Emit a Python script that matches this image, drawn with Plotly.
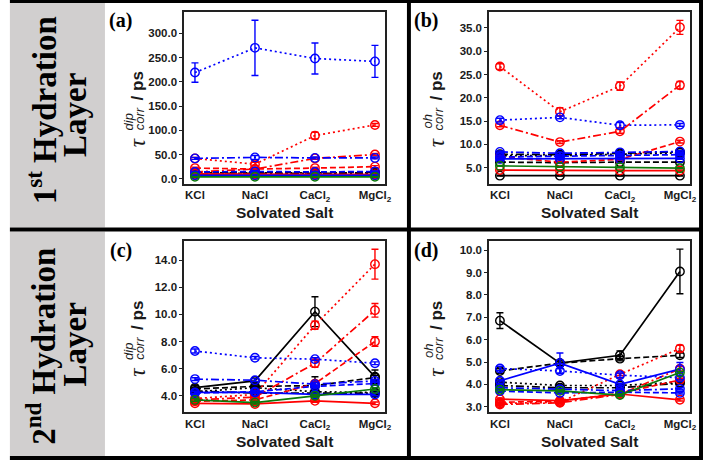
import plotly.graph_objects as go

# ---------------- data ----------------
salts = ["KCl", "NaCl", "CaCl2", "MgCl2"]
salt_labels = ["KCl", "NaCl", "CaCl<sub>2</sub>", "MgCl<sub>2</sub>"]

series = ["black solid", "black dash", "black dot", "black dashdot",
          "red solid", "red dash", "red dot", "red dashdot",
          "blue solid", "blue dash", "blue dot", "blue dashdot",
          "green solid"]

# (a) tau_dip, 1st hydration layer
tau_dip_1st = [
    [8, 8, 8, 8], [14, 13, 13, 13], [12, 12, 12, 12], [11, 11, 11, 11],
    [10, 9, 9, 9], [22, 20, 22, 25], [42, 30, 89, 111], [14, 20, 42, 50],
    [7, 7, 7, 7], [14, 15, 14, 15], [219, 270, 248, 242], [42, 44, 43, 43],
    [4, 4, 4, 4]]
err_dip_1st = [
    [1, 1, 1, 1], [1, 1, 1, 1], [1, 1, 1, 1], [1, 1, 1, 1],
    [1, 1, 1, 1], [2, 2, 2, 2], [2, 4, 7, 3], [1, 2, 2, 2],
    [1, 1, 1, 1], [1, 2, 1, 1], [20, 57, 32, 33], [2, 4, 2, 2],
    [1, 1, 1, 1]]

# (b) tau_oh, 1st hydration layer
tau_oh_1st = [
    [3.3, 3.3, 3.3, 3.3], [6.2, 6.1, 6.2, 6.2], [7.6, 7.6, 7.9, 8.2], [7.9, 7.8, 8.1, 8.4],
    [4.5, 4.4, 4.4, 4.4], [7.4, 6.2, 6.8, 10.6], [26.7, 17.0, 22.5, 35.1], [14.1, 10.5, 12.8, 22.7],
    [6.9, 6.9, 6.9, 7.0], [7.3, 7.5, 7.6, 7.8], [15.2, 15.8, 14.1, 14.2], [8.4, 8.1, 8.3, 8.5],
    [5.4, 5.2, 5.1, 4.9]]
err_oh_1st = [
    [0.1, 0.1, 0.1, 0.1], [0.1, 0.1, 0.1, 0.1], [0.2, 0.2, 0.2, 0.2], [0.2, 0.2, 0.2, 0.2],
    [0.1, 0.1, 0.1, 0.1], [0.2, 0.2, 0.2, 0.3], [0.6, 0.9, 0.9, 1.5], [0.3, 0.3, 0.4, 0.8],
    [0.2, 0.2, 0.2, 0.2], [0.2, 0.2, 0.2, 0.2], [0.4, 0.3, 0.6, 0.3], [0.2, 0.2, 0.2, 0.2],
    [0.1, 0.1, 0.1, 0.1]]

# (c) tau_dip, 2nd hydration layer
tau_dip_2nd = [
    [4.6, 5.1, 10.2, 5.4], [4.5, 4.7, 4.75, 5.35], [4.3, 4.6, 4.3, 4.25], [4.35, 4.2, 4.2, 4.2],
    [3.45, 3.4, 3.63, 3.45], [3.6, 3.7, 4.9, 8.0], [3.8, 4.1, 9.2, 13.7], [3.7, 3.9, 6.4, 10.3],
    [4.25, 4.25, 4.1, 4.1], [4.2, 4.3, 4.7, 4.9], [7.3, 6.8, 6.7, 6.4], [5.23, 5.15, 4.86, 5.1],
    [3.7, 3.5, 4.0, 4.5]]
err_dip_2nd = [
    [0.15, 0.2, 1.1, 0.5], [0.1, 0.1, 0.65, 0.15], [0.1, 0.1, 0.1, 0.1], [0.1, 0.1, 0.1, 0.1],
    [0.1, 0.1, 0.1, 0.1], [0.1, 0.1, 0.15, 0.35], [0.1, 0.1, 0.3, 1.1], [0.1, 0.1, 0.3, 0.5],
    [0.1, 0.1, 0.1, 0.1], [0.1, 0.1, 0.1, 0.1], [0.15, 0.1, 0.1, 0.1], [0.1, 0.1, 0.1, 0.1],
    [0.1, 0.1, 0.1, 0.1]]

# (d) tau_oh, 2nd hydration layer
tau_oh_2nd = [
    [6.85, 4.95, 5.3, 9.05], [4.6, 4.95, 5.15, 5.3], [4.1, 3.95, 3.95, 4.1], [3.95, 3.85, 3.85, 4.05],
    [3.34, 3.27, 3.57, 3.31], [3.2, 3.25, 3.6, 4.2], [3.15, 3.2, 4.45, 5.6], [3.1, 3.18, 3.55, 4.7],
    [4.16, 4.95, 4.0, 4.68], [3.7, 3.62, 3.65, 3.62], [4.71, 4.6, 4.41, 4.3], [3.85, 3.78, 3.72, 3.8],
    [3.76, 3.71, 3.52, 4.53]]
err_oh_2nd = [
    [0.35, 0.1, 0.2, 1.0], [0.1, 0.1, 0.1, 0.1], [0.05, 0.05, 0.05, 0.05], [0.05, 0.05, 0.05, 0.05],
    [0.05, 0.05, 0.05, 0.05], [0.05, 0.05, 0.05, 0.05], [0.05, 0.05, 0.05, 0.15], [0.05, 0.05, 0.05, 0.1],
    [0.05, 0.45, 0.05, 0.3], [0.05, 0.05, 0.05, 0.05], [0.1, 0.1, 0.1, 0.1], [0.05, 0.05, 0.05, 0.05],
    [0.05, 0.05, 0.05, 0.05]]

# ---------------- styles ----------------
COL = {"black": "#000000", "red": "#ff0000", "blue": "#0000ff", "green": "#0a7a0a"}
DASH = {"solid": "solid", "dash": "6px,3px", "dot": "2px,3px", "dashdot": "8px,3px,2px,3px"}

W, H = 710, 463
def fx(x):
    return x / W
def fy(y):
    return 1 - y / H

panels = [
    dict(label="(a)", n="", box=(186, 389, 12, 184), yr=[-10, 344], dt=50,
         vals=tau_dip_1st, errs=err_dip_1st, sup="dip", dx=-47),
    dict(label="(b)", n="2", box=(494, 697, 12, 184), yr=[1.6, 38.4], dt=5,
         vals=tau_oh_1st, errs=err_oh_1st, sup="oh", dx=-53),
    dict(label="(c)", n="3", box=(186, 389, 242, 413), yr=[2.8, 15.37], dt=2,
         vals=tau_dip_2nd, errs=err_dip_2nd, sup="dip", dx=-47),
    dict(label="(d)", n="4", box=(494, 697, 242, 413), yr=[2.76, 10.39], dt=1,
         vals=tau_oh_2nd, errs=err_oh_2nd, sup="oh", dx=-53),
]

fig = go.Figure()
layout = dict(width=W, height=H, margin=dict(l=0, r=0, t=0, b=0),
              paper_bgcolor="white", plot_bgcolor="white", showlegend=False)
annotations = []
shapes = []

tickfont = dict(family="Liberation Sans", size=11.5, color="#1a1a1a", weight="bold")
ink = "#1a1a1a"

for p in panels:
    L, R, T, B = p["box"]
    n = p["n"]
    xa, ya = "xaxis" + n, "yaxis" + n
    layout[xa] = dict(domain=[fx(L), fx(R)], anchor="y" + n, type="category",
                      range=[-0.18, 3.17], tickmode="array", tickvals=salts, ticktext=salt_labels,
                      showline=True, mirror=True, linecolor="#222", linewidth=1.6,
                      ticks="", showgrid=False, zeroline=False, tickfont=tickfont)
    layout[ya] = dict(domain=[fy(B), fy(T)], anchor="x" + n, range=p["yr"],
                      tick0=0, dtick=p["dt"], tickformat=".1f",
                      showline=True, mirror=True, linecolor="#222", linewidth=1.6,
                      ticks="outside", ticklen=3, tickcolor="#222", showgrid=False,
                      zeroline=False, tickfont=tickfont)
    for i, name in enumerate(series):
        cname, dname = name.split()
        c = COL[cname]
        fig.add_trace(go.Scatter(
            x=salts, y=p["vals"][i], name=name, mode="lines+markers",
            xaxis="x" + n, yaxis="y" + n,
            line=dict(color=c, width=1.7, dash=DASH[dname]),
            marker=dict(symbol="circle-open", size=8.5, color=c, line=dict(width=1.4, color=c)),
            error_y=dict(type="data", array=p["errs"][i], color=c, thickness=1.4, width=3.5),
        ))
    # panel label
    annotations.append(dict(text=p["label"], x=fx(L - 64), y=fy(T + 9), xref="paper", yref="paper",
                            showarrow=False, xanchor="center", yanchor="middle",
                            font=dict(family="Liberation Serif", size=20, color="black", weight="bold")))
    # x title
    annotations.append(dict(text="Solvated Salt", x=fx((L + R) / 2), y=fy(B + 29), xref="paper", yref="paper",
                            showarrow=False, xanchor="center", yanchor="middle",
                            font=dict(family="Liberation Sans", size=15.5, color=ink, weight="bold")))
    # y title pieces (tau with stacked super/subscript)
    cx = L + p["dx"]
    annotations.append(dict(text="τ", x=fx(cx), y=fy(T + 131), xref="paper", yref="paper",
                            showarrow=False, textangle=-90, xanchor="center", yanchor="middle",
                            font=dict(family="Liberation Serif", size=23, color=ink, style="italic")))
    annotations.append(dict(text=p["sup"], x=fx(cx - 9), y=fy(T + 110), xref="paper", yref="paper",
                            showarrow=False, textangle=-90, xanchor="center", yanchor="middle",
                            font=dict(family="Liberation Sans", size=13, color=ink, style="italic")))
    annotations.append(dict(text="corr", x=fx(cx + 2), y=fy(T + 107), xref="paper", yref="paper",
                            showarrow=False, textangle=-90, xanchor="center", yanchor="middle",
                            font=dict(family="Liberation Sans", size=13, color=ink, style="italic")))
    annotations.append(dict(text="/ ps", x=fx(cx), y=fy(T + 74), xref="paper", yref="paper",
                            showarrow=False, textangle=-90, xanchor="center", yanchor="middle",
                            font=dict(family="Liberation Sans", size=17, color=ink, weight="bold")))

# gray side column
gray = "#d1cfcf"
shapes.append(dict(type="rect", xref="paper", yref="paper", x0=fx(10), x1=fx(106), y0=fy(228), y1=fy(3),
                   fillcolor=gray, line=dict(width=0), layer="below"))
shapes.append(dict(type="rect", xref="paper", yref="paper", x0=fx(10), x1=fx(106), y0=fy(457), y1=fy(232),
                   fillcolor=gray, line=dict(width=0), layer="below"))
# black frame lines
for (x0, x1, y0, y1) in [(10, 710, 0, 3), (10, 710, 228, 232), (10, 710, 457, 461),
                         (411, 415, 0, 461), (706, 710, 0, 461)]:
    shapes.append(dict(type="rect", xref="paper", yref="paper", x0=fx(x0), x1=fx(x1), y0=fy(y1), y1=fy(y0),
                       fillcolor="black", line=dict(width=0), layer="above"))

rowfont = dict(family="Liberation Serif", size=33, color="black", weight="bold")
for txt, x, y in [("1<sup>st</sup> Hydration", 42, 111), ("Layer", 76, 115),
                  ("2<sup>nd</sup> Hydration", 42, 347), ("Layer", 76, 345)]:
    annotations.append(dict(text=txt, x=fx(x), y=fy(y), xref="paper", yref="paper", showarrow=False,
                            textangle=-90, xanchor="center", yanchor="middle", font=rowfont))

layout["annotations"] = annotations
layout["shapes"] = shapes
fig.update_layout(**layout)
fig.write_html("out.html")
